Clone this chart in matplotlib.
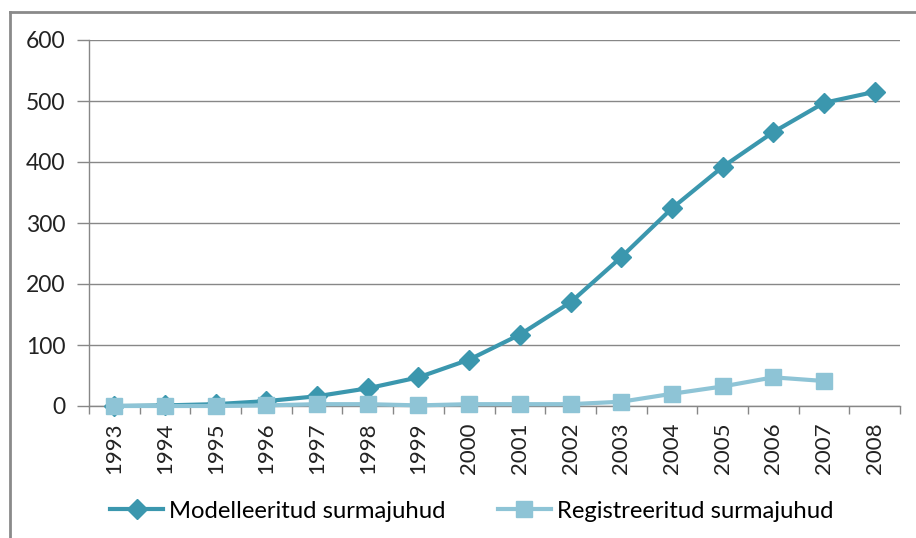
import matplotlib
matplotlib.use("Agg")
import matplotlib.pyplot as plt
from matplotlib.lines import Line2D

years = ["1993", "1994", "1995", "1996", "1997", "1998", "1999", "2000",
         "2001", "2002", "2003", "2004", "2005", "2006", "2007", "2008"]
modelled = [0, 1, 3, 8, 16, 29, 47, 76, 117, 170, 244, 324, 392, 449, 497, 515]
registered = [0, 0, 0, 1, 3, 3, 1, 3, 3, 3, 7, 20, 32, 47, 41]
y_ticks = [0, 100, 200, 300, 400, 500, 600]

label_modelled = "Modelleeritud surmajuhud"
label_registered = "Registreeritud surmajuhud"

dark = "#3b97ae"
light = "#8ec4d6"
grey = "#878787"

plt.rcParams["font.family"] = ["Lato", "DejaVu Sans"]

fig = plt.figure(figsize=(9.16, 5.38), dpi=100)
ax = fig.add_axes([89 / 916, 1 - 406 / 538, (900 - 89) / 916, (406 - 40) / 538])

x = list(range(len(years)))
ax.plot(x, modelled, color=dark, lw=3, marker="D", ms=10, zorder=3,
        label=label_modelled, clip_on=False)
ax.plot(x[:len(registered)], registered, color=light, lw=3, marker="s",
        ms=12, zorder=4, label=label_registered, clip_on=False)

ax.set_xlim(-0.5, len(years) - 0.5)
ax.set_ylim(0, 600)
ax.set_yticks(y_ticks)
ax.set_yticklabels([str(v) for v in y_ticks], fontsize=16.5, color="#222222")
ax.set_xticks(x)
ax.set_xticklabels(years, rotation=90, fontsize=16, color="#222222")
ax.tick_params(axis="x", length=0, pad=12)
ax.tick_params(axis="y", length=9, width=1, color=grey, pad=8)

# category boundary ticks below the baseline
ax.set_xticks([i - 0.5 for i in range(len(years) + 1)], minor=True)
ax.tick_params(axis="x", which="minor", length=6, width=1, color=grey)

ax.grid(axis="y", color=grey, lw=1)
ax.set_axisbelow(True)
for side in ("top", "right"):
    ax.spines[side].set_visible(False)
for side in ("left", "bottom"):
    ax.spines[side].set_color(grey)
    ax.spines[side].set_linewidth(1)

handles = [
    Line2D([], [], color=dark, lw=3, marker="D", ms=10),
    Line2D([], [], color=light, lw=3, marker="s", ms=12),
]
fig.legend(handles, [label_modelled, label_registered], loc="center",
           bbox_to_anchor=(0.515, 1 - 511 / 538), ncol=2, frameon=False,
           fontsize=17.2, handlelength=2.2, columnspacing=2.2, handletextpad=0.25)

# outer frame
fig.add_artist(Line2D([10 / 916, 1], [1 - 12 / 538] * 2, color="#8a8a8a", lw=2,
                      transform=fig.transFigure))
fig.add_artist(Line2D([10 / 916] * 2, [0, 1 - 12 / 538], color="#8a8a8a", lw=2,
                      transform=fig.transFigure))

fig.savefig("out.png", dpi=100)
